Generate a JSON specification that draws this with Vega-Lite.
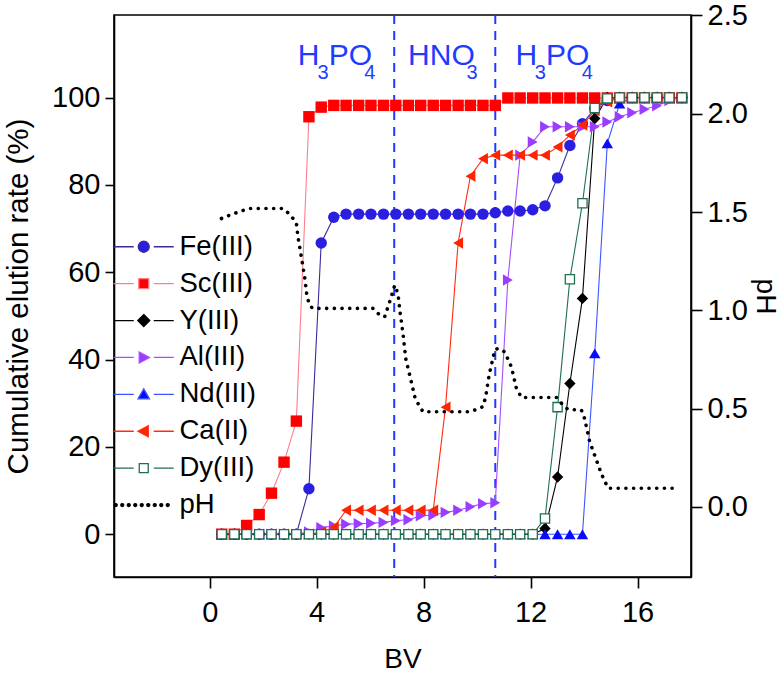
{
 "$schema": "https://vega.github.io/schema/vega-lite/v6.json",
 "width": 577,
 "height": 562,
 "autosize": {"type": "none"},
 "padding": {"left": 114, "top": 15, "right": 92, "bottom": 96},
 "config": {
  "font": "Liberation Sans",
  "view": {"stroke": "black", "strokeWidth": 1.6},
  "axis": {"domainColor": "black", "domainWidth": 1.6, "tickColor": "black", "tickWidth": 1.6, "labelColor": "black", "labelFontSize": 29, "titleFontSize": 28, "titleFontWeight": "normal", "titleColor": "black", "grid": false, "labelFont": "Liberation Sans", "titleFont": "Liberation Sans"}
 },
 "datasets": {
  "dash": [{"bv": 6.9}, {"bv": 10.68}],
  "ann": [
   {"t": "H", "bv": 3.29, "v": 107.4, "k": "m"},
   {"t": "3", "bv": 4.03, "v": 104.2, "k": "s"},
   {"t": "PO", "bv": 4.45, "v": 107.4, "k": "m"},
   {"t": "4", "bv": 5.78, "v": 104.2, "k": "s"},
   {"t": "HNO", "bv": 7.42, "v": 107.4, "k": "m"},
   {"t": "3", "bv": 9.6, "v": 104.2, "k": "s"},
   {"t": "H", "bv": 11.44, "v": 107.4, "k": "m"},
   {"t": "3", "bv": 12.16, "v": 104.2, "k": "s"},
   {"t": "PO", "bv": 12.58, "v": 107.4, "k": "m"},
   {"t": "4", "bv": 13.91, "v": 104.2, "k": "s"}
  ],
  "ph": [
   {"bv": 0.44, "ph": 1.467}, {"bv": 0.75, "ph": 1.484}, {"bv": 1.19, "ph": 1.506}, {"bv": 1.5, "ph": 1.518},
   {"bv": 2.74, "ph": 1.518}, {"bv": 2.99, "ph": 1.489}, {"bv": 3.24, "ph": 1.445}, {"bv": 3.3, "ph": 1.374},
   {"bv": 3.43, "ph": 1.27}, {"bv": 3.55, "ph": 1.17}, {"bv": 3.64, "ph": 1.069}, {"bv": 3.74, "ph": 1.026},
   {"bv": 3.85, "ph": 1.01}, {"bv": 6.11, "ph": 1.01}, {"bv": 6.36, "ph": 0.976}, {"bv": 6.54, "ph": 0.967},
   {"bv": 6.73, "ph": 1.043}, {"bv": 6.92, "ph": 1.128}, {"bv": 7.04, "ph": 1.086}, {"bv": 7.11, "ph": 1.0},
   {"bv": 7.23, "ph": 0.882}, {"bv": 7.33, "ph": 0.755}, {"bv": 7.54, "ph": 0.636}, {"bv": 7.67, "ph": 0.56},
   {"bv": 7.82, "ph": 0.518}, {"bv": 7.98, "ph": 0.484}, {"bv": 9.72, "ph": 0.484}, {"bv": 9.97, "ph": 0.496},
   {"bv": 10.22, "ph": 0.51}, {"bv": 10.32, "ph": 0.56}, {"bv": 10.45, "ph": 0.671}, {"bv": 10.66, "ph": 0.798},
   {"bv": 10.78, "ph": 0.806}, {"bv": 11.03, "ph": 0.789}, {"bv": 11.28, "ph": 0.713}, {"bv": 11.47, "ph": 0.603},
   {"bv": 11.66, "ph": 0.557}, {"bv": 12.97, "ph": 0.557}, {"bv": 13.2, "ph": 0.52}, {"bv": 13.4, "ph": 0.496},
   {"bv": 13.9, "ph": 0.493}, {"bv": 14.02, "ph": 0.45}, {"bv": 14.21, "ph": 0.332}, {"bv": 14.44, "ph": 0.247},
   {"bv": 14.65, "ph": 0.168}, {"bv": 14.9, "ph": 0.095}, {"bv": 17.45, "ph": 0.095}
  ],
  "s": [
   {"s":"Fe(III)","bv":0.45,"v":0},{"s":"Fe(III)","bv":0.92,"v":0},{"s":"Fe(III)","bv":1.38,"v":0},{"s":"Fe(III)","bv":1.85,"v":0},{"s":"Fe(III)","bv":2.31,"v":0},{"s":"Fe(III)","bv":2.78,"v":0},{"s":"Fe(III)","bv":3.24,"v":0},{"s":"Fe(III)","bv":3.71,"v":10.4},{"s":"Fe(III)","bv":4.17,"v":66.7},{"s":"Fe(III)","bv":4.64,"v":72.6},{"s":"Fe(III)","bv":5.1,"v":73.3},{"s":"Fe(III)","bv":5.57,"v":73.3},{"s":"Fe(III)","bv":6.03,"v":73.3},{"s":"Fe(III)","bv":6.5,"v":73.3},{"s":"Fe(III)","bv":6.96,"v":73.3},{"s":"Fe(III)","bv":7.43,"v":73.3},{"s":"Fe(III)","bv":7.89,"v":73.3},{"s":"Fe(III)","bv":8.36,"v":73.3},{"s":"Fe(III)","bv":8.82,"v":73.3},{"s":"Fe(III)","bv":9.29,"v":73.3},{"s":"Fe(III)","bv":9.75,"v":73.3},{"s":"Fe(III)","bv":10.22,"v":73.3},{"s":"Fe(III)","bv":10.68,"v":73.6},{"s":"Fe(III)","bv":11.15,"v":74.0},{"s":"Fe(III)","bv":11.61,"v":74.0},{"s":"Fe(III)","bv":12.08,"v":74.3},{"s":"Fe(III)","bv":12.54,"v":75.2},{"s":"Fe(III)","bv":13.01,"v":81.6},{"s":"Fe(III)","bv":13.47,"v":89.0},{"s":"Fe(III)","bv":13.94,"v":94.0},{"s":"Fe(III)","bv":14.4,"v":97.5},{"s":"Fe(III)","bv":14.87,"v":99.3},{"s":"Fe(III)","bv":15.33,"v":100},{"s":"Fe(III)","bv":15.8,"v":100},{"s":"Fe(III)","bv":16.26,"v":100},{"s":"Fe(III)","bv":16.73,"v":100},{"s":"Fe(III)","bv":17.19,"v":100},{"s":"Fe(III)","bv":17.66,"v":100},
   {"s":"Sc(III)","bv":0.45,"v":0},{"s":"Sc(III)","bv":0.92,"v":0},{"s":"Sc(III)","bv":1.38,"v":2.0},{"s":"Sc(III)","bv":1.85,"v":4.5},{"s":"Sc(III)","bv":2.31,"v":9.4},{"s":"Sc(III)","bv":2.78,"v":16.5},{"s":"Sc(III)","bv":3.24,"v":25.9},{"s":"Sc(III)","bv":3.71,"v":95.6},{"s":"Sc(III)","bv":4.17,"v":97.8},{"s":"Sc(III)","bv":4.64,"v":98.2},{"s":"Sc(III)","bv":5.1,"v":98.2},{"s":"Sc(III)","bv":5.57,"v":98.2},{"s":"Sc(III)","bv":6.03,"v":98.2},{"s":"Sc(III)","bv":6.5,"v":98.2},{"s":"Sc(III)","bv":6.96,"v":98.2},{"s":"Sc(III)","bv":7.43,"v":98.2},{"s":"Sc(III)","bv":7.89,"v":98.2},{"s":"Sc(III)","bv":8.36,"v":98.2},{"s":"Sc(III)","bv":8.82,"v":98.2},{"s":"Sc(III)","bv":9.29,"v":98.2},{"s":"Sc(III)","bv":9.75,"v":98.2},{"s":"Sc(III)","bv":10.22,"v":98.2},{"s":"Sc(III)","bv":10.68,"v":98.2},{"s":"Sc(III)","bv":11.15,"v":99.9},{"s":"Sc(III)","bv":11.61,"v":99.9},{"s":"Sc(III)","bv":12.08,"v":99.9},{"s":"Sc(III)","bv":12.54,"v":99.9},{"s":"Sc(III)","bv":13.01,"v":99.9},{"s":"Sc(III)","bv":13.47,"v":99.9},{"s":"Sc(III)","bv":13.94,"v":99.9},{"s":"Sc(III)","bv":14.4,"v":99.9},{"s":"Sc(III)","bv":14.87,"v":99.9},{"s":"Sc(III)","bv":15.33,"v":99.9},{"s":"Sc(III)","bv":15.8,"v":99.9},{"s":"Sc(III)","bv":16.26,"v":99.9},{"s":"Sc(III)","bv":16.73,"v":99.9},{"s":"Sc(III)","bv":17.19,"v":99.9},{"s":"Sc(III)","bv":17.66,"v":99.9},
   {"s":"Y(III)","bv":0.45,"v":0},{"s":"Y(III)","bv":0.92,"v":0},{"s":"Y(III)","bv":1.38,"v":0},{"s":"Y(III)","bv":1.85,"v":0},{"s":"Y(III)","bv":2.31,"v":0},{"s":"Y(III)","bv":2.78,"v":0},{"s":"Y(III)","bv":3.24,"v":0},{"s":"Y(III)","bv":3.71,"v":0},{"s":"Y(III)","bv":4.17,"v":0},{"s":"Y(III)","bv":4.64,"v":0},{"s":"Y(III)","bv":5.1,"v":0},{"s":"Y(III)","bv":5.57,"v":0},{"s":"Y(III)","bv":6.03,"v":0},{"s":"Y(III)","bv":6.5,"v":0},{"s":"Y(III)","bv":6.96,"v":0},{"s":"Y(III)","bv":7.43,"v":0},{"s":"Y(III)","bv":7.89,"v":0},{"s":"Y(III)","bv":8.36,"v":0},{"s":"Y(III)","bv":8.82,"v":0},{"s":"Y(III)","bv":9.29,"v":0},{"s":"Y(III)","bv":9.75,"v":0},{"s":"Y(III)","bv":10.22,"v":0},{"s":"Y(III)","bv":10.68,"v":0},{"s":"Y(III)","bv":11.15,"v":0},{"s":"Y(III)","bv":11.61,"v":0},{"s":"Y(III)","bv":12.08,"v":0},{"s":"Y(III)","bv":12.54,"v":1.3},{"s":"Y(III)","bv":13.01,"v":13.1},{"s":"Y(III)","bv":13.47,"v":34.5},{"s":"Y(III)","bv":13.94,"v":54.0},{"s":"Y(III)","bv":14.4,"v":95.2},{"s":"Y(III)","bv":14.87,"v":100},{"s":"Y(III)","bv":15.33,"v":100},{"s":"Y(III)","bv":15.8,"v":100},{"s":"Y(III)","bv":16.26,"v":100},{"s":"Y(III)","bv":16.73,"v":100},{"s":"Y(III)","bv":17.19,"v":100},{"s":"Y(III)","bv":17.66,"v":100},
   {"s":"Al(III)","bv":0.45,"v":0},{"s":"Al(III)","bv":0.92,"v":0},{"s":"Al(III)","bv":1.38,"v":0},{"s":"Al(III)","bv":1.85,"v":0},{"s":"Al(III)","bv":2.31,"v":0},{"s":"Al(III)","bv":2.78,"v":0},{"s":"Al(III)","bv":3.24,"v":0},{"s":"Al(III)","bv":3.71,"v":0.5},{"s":"Al(III)","bv":4.17,"v":1.5},{"s":"Al(III)","bv":4.64,"v":1.9},{"s":"Al(III)","bv":5.1,"v":2.3},{"s":"Al(III)","bv":5.57,"v":2.4},{"s":"Al(III)","bv":6.03,"v":2.5},{"s":"Al(III)","bv":6.5,"v":2.7},{"s":"Al(III)","bv":6.96,"v":3.1},{"s":"Al(III)","bv":7.43,"v":3.3},{"s":"Al(III)","bv":7.89,"v":4.2},{"s":"Al(III)","bv":8.36,"v":4.4},{"s":"Al(III)","bv":8.82,"v":5.0},{"s":"Al(III)","bv":9.29,"v":5.5},{"s":"Al(III)","bv":9.75,"v":6.3},{"s":"Al(III)","bv":10.22,"v":7.0},{"s":"Al(III)","bv":10.68,"v":7.2},{"s":"Al(III)","bv":11.15,"v":58.2},{"s":"Al(III)","bv":11.61,"v":86.8},{"s":"Al(III)","bv":12.08,"v":89.8},{"s":"Al(III)","bv":12.54,"v":93.3},{"s":"Al(III)","bv":13.01,"v":93.3},{"s":"Al(III)","bv":13.47,"v":93.3},{"s":"Al(III)","bv":13.94,"v":93.3},{"s":"Al(III)","bv":14.4,"v":93.3},{"s":"Al(III)","bv":14.87,"v":94.4},{"s":"Al(III)","bv":15.33,"v":95.6},{"s":"Al(III)","bv":15.8,"v":96.5},{"s":"Al(III)","bv":16.26,"v":97.3},{"s":"Al(III)","bv":16.73,"v":98.1},{"s":"Al(III)","bv":17.19,"v":99.3},{"s":"Al(III)","bv":17.66,"v":100},
   {"s":"Nd(III)","bv":0.45,"v":0},{"s":"Nd(III)","bv":0.92,"v":0},{"s":"Nd(III)","bv":1.38,"v":0},{"s":"Nd(III)","bv":1.85,"v":0},{"s":"Nd(III)","bv":2.31,"v":0},{"s":"Nd(III)","bv":2.78,"v":0},{"s":"Nd(III)","bv":3.24,"v":0},{"s":"Nd(III)","bv":3.71,"v":0},{"s":"Nd(III)","bv":4.17,"v":0},{"s":"Nd(III)","bv":4.64,"v":0},{"s":"Nd(III)","bv":5.1,"v":0},{"s":"Nd(III)","bv":5.57,"v":0},{"s":"Nd(III)","bv":6.03,"v":0},{"s":"Nd(III)","bv":6.5,"v":0},{"s":"Nd(III)","bv":6.96,"v":0},{"s":"Nd(III)","bv":7.43,"v":0},{"s":"Nd(III)","bv":7.89,"v":0},{"s":"Nd(III)","bv":8.36,"v":0},{"s":"Nd(III)","bv":8.82,"v":0},{"s":"Nd(III)","bv":9.29,"v":0},{"s":"Nd(III)","bv":9.75,"v":0},{"s":"Nd(III)","bv":10.22,"v":0},{"s":"Nd(III)","bv":10.68,"v":0},{"s":"Nd(III)","bv":11.15,"v":0},{"s":"Nd(III)","bv":11.61,"v":0},{"s":"Nd(III)","bv":12.08,"v":0},{"s":"Nd(III)","bv":12.54,"v":0},{"s":"Nd(III)","bv":13.01,"v":0},{"s":"Nd(III)","bv":13.47,"v":0},{"s":"Nd(III)","bv":13.94,"v":0},{"s":"Nd(III)","bv":14.4,"v":41.4},{"s":"Nd(III)","bv":14.87,"v":89.5},{"s":"Nd(III)","bv":15.33,"v":98.6},{"s":"Nd(III)","bv":15.8,"v":100},{"s":"Nd(III)","bv":16.26,"v":100},{"s":"Nd(III)","bv":16.73,"v":100},{"s":"Nd(III)","bv":17.19,"v":100},{"s":"Nd(III)","bv":17.66,"v":100},
   {"s":"Ca(II)","bv":0.45,"v":0},{"s":"Ca(II)","bv":0.92,"v":0},{"s":"Ca(II)","bv":1.38,"v":0},{"s":"Ca(II)","bv":1.85,"v":0},{"s":"Ca(II)","bv":2.31,"v":0},{"s":"Ca(II)","bv":2.78,"v":0},{"s":"Ca(II)","bv":3.24,"v":0},{"s":"Ca(II)","bv":3.71,"v":0},{"s":"Ca(II)","bv":4.17,"v":0.5},{"s":"Ca(II)","bv":4.64,"v":1.6},{"s":"Ca(II)","bv":5.1,"v":5.5},{"s":"Ca(II)","bv":5.57,"v":5.5},{"s":"Ca(II)","bv":6.03,"v":5.5},{"s":"Ca(II)","bv":6.5,"v":5.5},{"s":"Ca(II)","bv":6.96,"v":5.5},{"s":"Ca(II)","bv":7.43,"v":5.5},{"s":"Ca(II)","bv":7.89,"v":5.5},{"s":"Ca(II)","bv":8.36,"v":5.5},{"s":"Ca(II)","bv":8.82,"v":29.1},{"s":"Ca(II)","bv":9.29,"v":66.7},{"s":"Ca(II)","bv":9.75,"v":82.0},{"s":"Ca(II)","bv":10.22,"v":86.0},{"s":"Ca(II)","bv":10.68,"v":86.8},{"s":"Ca(II)","bv":11.15,"v":86.8},{"s":"Ca(II)","bv":11.61,"v":86.8},{"s":"Ca(II)","bv":12.08,"v":86.8},{"s":"Ca(II)","bv":12.54,"v":86.8},{"s":"Ca(II)","bv":13.01,"v":88.7},{"s":"Ca(II)","bv":13.47,"v":91.4},{"s":"Ca(II)","bv":13.94,"v":93.7},{"s":"Ca(II)","bv":14.4,"v":97.0},{"s":"Ca(II)","bv":14.87,"v":99.0},{"s":"Ca(II)","bv":15.33,"v":100},{"s":"Ca(II)","bv":15.8,"v":100},{"s":"Ca(II)","bv":16.26,"v":100},{"s":"Ca(II)","bv":16.73,"v":100},{"s":"Ca(II)","bv":17.19,"v":100},{"s":"Ca(II)","bv":17.66,"v":100},
   {"s":"Dy(III)","bv":0.45,"v":0},{"s":"Dy(III)","bv":0.92,"v":0},{"s":"Dy(III)","bv":1.38,"v":0},{"s":"Dy(III)","bv":1.85,"v":0},{"s":"Dy(III)","bv":2.31,"v":0},{"s":"Dy(III)","bv":2.78,"v":0},{"s":"Dy(III)","bv":3.24,"v":0},{"s":"Dy(III)","bv":3.71,"v":0},{"s":"Dy(III)","bv":4.17,"v":0},{"s":"Dy(III)","bv":4.64,"v":0},{"s":"Dy(III)","bv":5.1,"v":0},{"s":"Dy(III)","bv":5.57,"v":0},{"s":"Dy(III)","bv":6.03,"v":0},{"s":"Dy(III)","bv":6.5,"v":0},{"s":"Dy(III)","bv":6.96,"v":0},{"s":"Dy(III)","bv":7.43,"v":0},{"s":"Dy(III)","bv":7.89,"v":0},{"s":"Dy(III)","bv":8.36,"v":0},{"s":"Dy(III)","bv":8.82,"v":0},{"s":"Dy(III)","bv":9.29,"v":0},{"s":"Dy(III)","bv":9.75,"v":0},{"s":"Dy(III)","bv":10.22,"v":0},{"s":"Dy(III)","bv":10.68,"v":0},{"s":"Dy(III)","bv":11.15,"v":0},{"s":"Dy(III)","bv":11.61,"v":0},{"s":"Dy(III)","bv":12.08,"v":0},{"s":"Dy(III)","bv":12.54,"v":3.6},{"s":"Dy(III)","bv":13.01,"v":29.1},{"s":"Dy(III)","bv":13.47,"v":58.4},{"s":"Dy(III)","bv":13.94,"v":75.8},{"s":"Dy(III)","bv":14.4,"v":97.6},{"s":"Dy(III)","bv":14.87,"v":99.8},{"s":"Dy(III)","bv":15.33,"v":100},{"s":"Dy(III)","bv":15.8,"v":100},{"s":"Dy(III)","bv":16.26,"v":100},{"s":"Dy(III)","bv":16.73,"v":100},{"s":"Dy(III)","bv":17.19,"v":100},{"s":"Dy(III)","bv":17.66,"v":100}
  ]
 },
 "encoding": {
  "x": {"field": "bv", "type": "quantitative", "scale": {"domain": [-3.58, 18.0], "nice": false, "zero": false},
        "axis": {"values": [0, 4, 8, 12, 16], "title": "BV", "tickSize": 11, "labelPadding": 10, "titlePadding": 18, "labelFlush": false}}
 },
 "layer": [
  {"data": {"name": "dash"}, "mark": {"type": "rule", "color": "#1e3cff", "strokeWidth": 2, "strokeDash": [9, 7]}},
  {
   "encoding": {
    "y": {"field": "v", "type": "quantitative", "scale": {"domain": [-9.8, 118.9], "nice": false, "zero": false},
          "axis": {"values": [0, 20, 40, 60, 80, 100], "title": "Cumulative elution rate (%)", "titleFontSize": 29.5, "tickSize": 9, "labelPadding": 5, "titlePadding": 18}}
   },
   "layer": [
    {"data": {"name": "s"}, "mark": {"type": "line", "strokeWidth": 1.1},
     "encoding": {"stroke": {"field": "s", "type": "nominal", "legend": null,
       "scale": {"domain": ["Fe(III)", "Sc(III)", "Y(III)", "Al(III)", "Nd(III)", "Ca(II)", "Dy(III)"],
                 "range": ["#3b2b9b", "#ff7d8c", "#000000", "#a64dff", "#3d55ff", "#ff2a10", "#207050"]}}}},
    {"data": {"name": "s"}, "transform": [{"filter": "datum.s !== 'Dy(III)'"}],
     "mark": {"type": "point", "filled": true, "opacity": 1, "size": 130, "strokeWidth": 0},
     "encoding": {
      "fill": {"field": "s", "type": "nominal", "legend": null,
       "scale": {"domain": ["Fe(III)", "Sc(III)", "Y(III)", "Al(III)", "Nd(III)", "Ca(II)"],
                 "range": ["#2a1ee0", "#ff0000", "#000000", "#9b3dff", "#0a0aff", "#ff2400"]}},
      "shape": {"field": "s", "type": "nominal", "legend": null,
       "scale": {"domain": ["Fe(III)", "Sc(III)", "Y(III)", "Al(III)", "Nd(III)", "Ca(II)"],
                 "range": ["circle", "square", "diamond", "triangle-right", "triangle-up", "triangle-left"]}}
     }},
    {"data": {"name": "s"}, "transform": [{"filter": "datum.s === 'Dy(III)'"}],
     "mark": {"type": "point", "shape": "square", "filled": true, "fill": "white", "stroke": "#207050", "strokeWidth": 1.3, "size": 85, "opacity": 1}},
    {"data": {"name": "ann"}, "transform": [{"filter": "datum.k === 'm'"}],
     "mark": {"type": "text", "align": "left", "baseline": "alphabetic", "fontSize": 30, "font": "'Liberation Sans Narrow', 'Arial Narrow', 'Liberation Sans'", "color": "#1e3cff"},
     "encoding": {"text": {"field": "t"}}},
    {"data": {"name": "ann"}, "transform": [{"filter": "datum.k === 's'"}],
     "mark": {"type": "text", "align": "left", "baseline": "alphabetic", "fontSize": 20, "font": "'Liberation Sans Narrow', 'Arial Narrow', 'Liberation Sans'", "color": "#1e3cff"},
     "encoding": {"text": {"field": "t"}}},
    {"data": {"name": "s"}, "transform": [{"filter": "false"}],
     "mark": {"type": "point", "filled": true, "opacity": 1, "strokeWidth": 1.3},
     "encoding": {
      "shape": {"field": "s", "type": "nominal",
       "scale": {"domain": ["Fe(III)", "Sc(III)", "Y(III)", "Al(III)", "Nd(III)", "Ca(II)", "Dy(III)", "pH"],
                 "range": [
                  "M-6,0H-2M2,0H6M-1.1,0A1.1,1.1,0,1,1,1.1,0A1.1,1.1,0,1,1,-1.1,0Z",
                  "M-6,0H-2M2,0H6M-1,-1H1V1H-1Z",
                  "M-6,0H-2M2,0H6M0,-1.2L1.2,0L0,1.2L-1.2,0Z",
                  "M-6,0H-2M2,0H6M-0.9,-1.1L1.15,0L-0.9,1.1Z",
                  "M-6,0H-2M2,0H6M0,-1.1L1.15,0.9H-1.15Z",
                  "M-6,0H-2M2,0H6M0.9,-1.1L-1.15,0L0.9,1.1Z",
                  "M-6,0H-2M2,0H6M-0.9,-0.9H0.9V0.9H-0.9Z",
                  "M-5.9,0a0.3,0.3,0,1,0,0.6,0a0.3,0.3,0,1,0,-0.6,0M-4.6,0a0.3,0.3,0,1,0,0.6,0a0.3,0.3,0,1,0,-0.6,0M-3.3,0a0.3,0.3,0,1,0,0.6,0a0.3,0.3,0,1,0,-0.6,0M-2,0a0.3,0.3,0,1,0,0.6,0a0.3,0.3,0,1,0,-0.6,0M-0.7,0a0.3,0.3,0,1,0,0.6,0a0.3,0.3,0,1,0,-0.6,0M0.6,0a0.3,0.3,0,1,0,0.6,0a0.3,0.3,0,1,0,-0.6,0M1.9,0a0.3,0.3,0,1,0,0.6,0a0.3,0.3,0,1,0,-0.6,0M3.2,0a0.3,0.3,0,1,0,0.6,0a0.3,0.3,0,1,0,-0.6,0M4.5,0a0.3,0.3,0,1,0,0.6,0a0.3,0.3,0,1,0,-0.6,0"
                 ]},
       "legend": {"orient": "none", "legendX": 16, "legendY": 218, "title": null, "symbolSize": 100, "labelFontSize": 27.5, "labelOffset": 22, "rowPadding": 7.9, "labelColor": "black", "padding": 0, "symbolStrokeWidth": 1.3, "symbolOpacity": 1}},
      "fill": {"field": "s", "type": "nominal",
       "scale": {"domain": ["Fe(III)", "Sc(III)", "Y(III)", "Al(III)", "Nd(III)", "Ca(II)", "Dy(III)", "pH"],
                 "range": ["#2a1ee0", "#ff0000", "#000000", "#9b3dff", "#0a0aff", "#ff2400", "#ffffff", "#000000"]},
       "legend": {"orient": "none", "legendX": 16, "legendY": 218, "title": null, "symbolSize": 100, "labelFontSize": 27.5, "labelOffset": 22, "rowPadding": 7.9, "labelColor": "black", "padding": 0, "symbolStrokeWidth": 1.3, "symbolOpacity": 1}},
      "stroke": {"field": "s", "type": "nominal",
       "scale": {"domain": ["Fe(III)", "Sc(III)", "Y(III)", "Al(III)", "Nd(III)", "Ca(II)", "Dy(III)", "pH"],
                 "range": ["#3b2b9b", "#ff7d8c", "#000000", "#a64dff", "#3d55ff", "#ff2a10", "#207050", "#000000"]},
       "legend": {"orient": "none", "legendX": 16, "legendY": 218, "title": null, "symbolSize": 100, "labelFontSize": 27.5, "labelOffset": 22, "rowPadding": 7.9, "labelColor": "black", "padding": 0, "symbolStrokeWidth": 1.3, "symbolOpacity": 1}}
     }}
   ],
   "resolve": {"scale": {"fill": "independent", "stroke": "independent", "shape": "independent"}}
  },
  {"data": {"name": "ph"}, "mark": {"type": "line", "color": "black", "strokeWidth": 3.6, "strokeDash": [0.1, 7.6], "strokeCap": "round"},
   "encoding": {"y": {"field": "ph", "type": "quantitative", "scale": {"domain": [-0.356, 2.502], "nice": false, "zero": false},
     "axis": {"orient": "right", "values": [0, 0.5, 1, 1.5, 2, 2.5], "format": ".1f", "title": "pH", "tickSize": 11, "labelPadding": 5, "titlePadding": 3, "titleAngle": 90, "titleBaseline": "bottom"}}}}
 ],
 "resolve": {"scale": {"y": "independent"}}
}
